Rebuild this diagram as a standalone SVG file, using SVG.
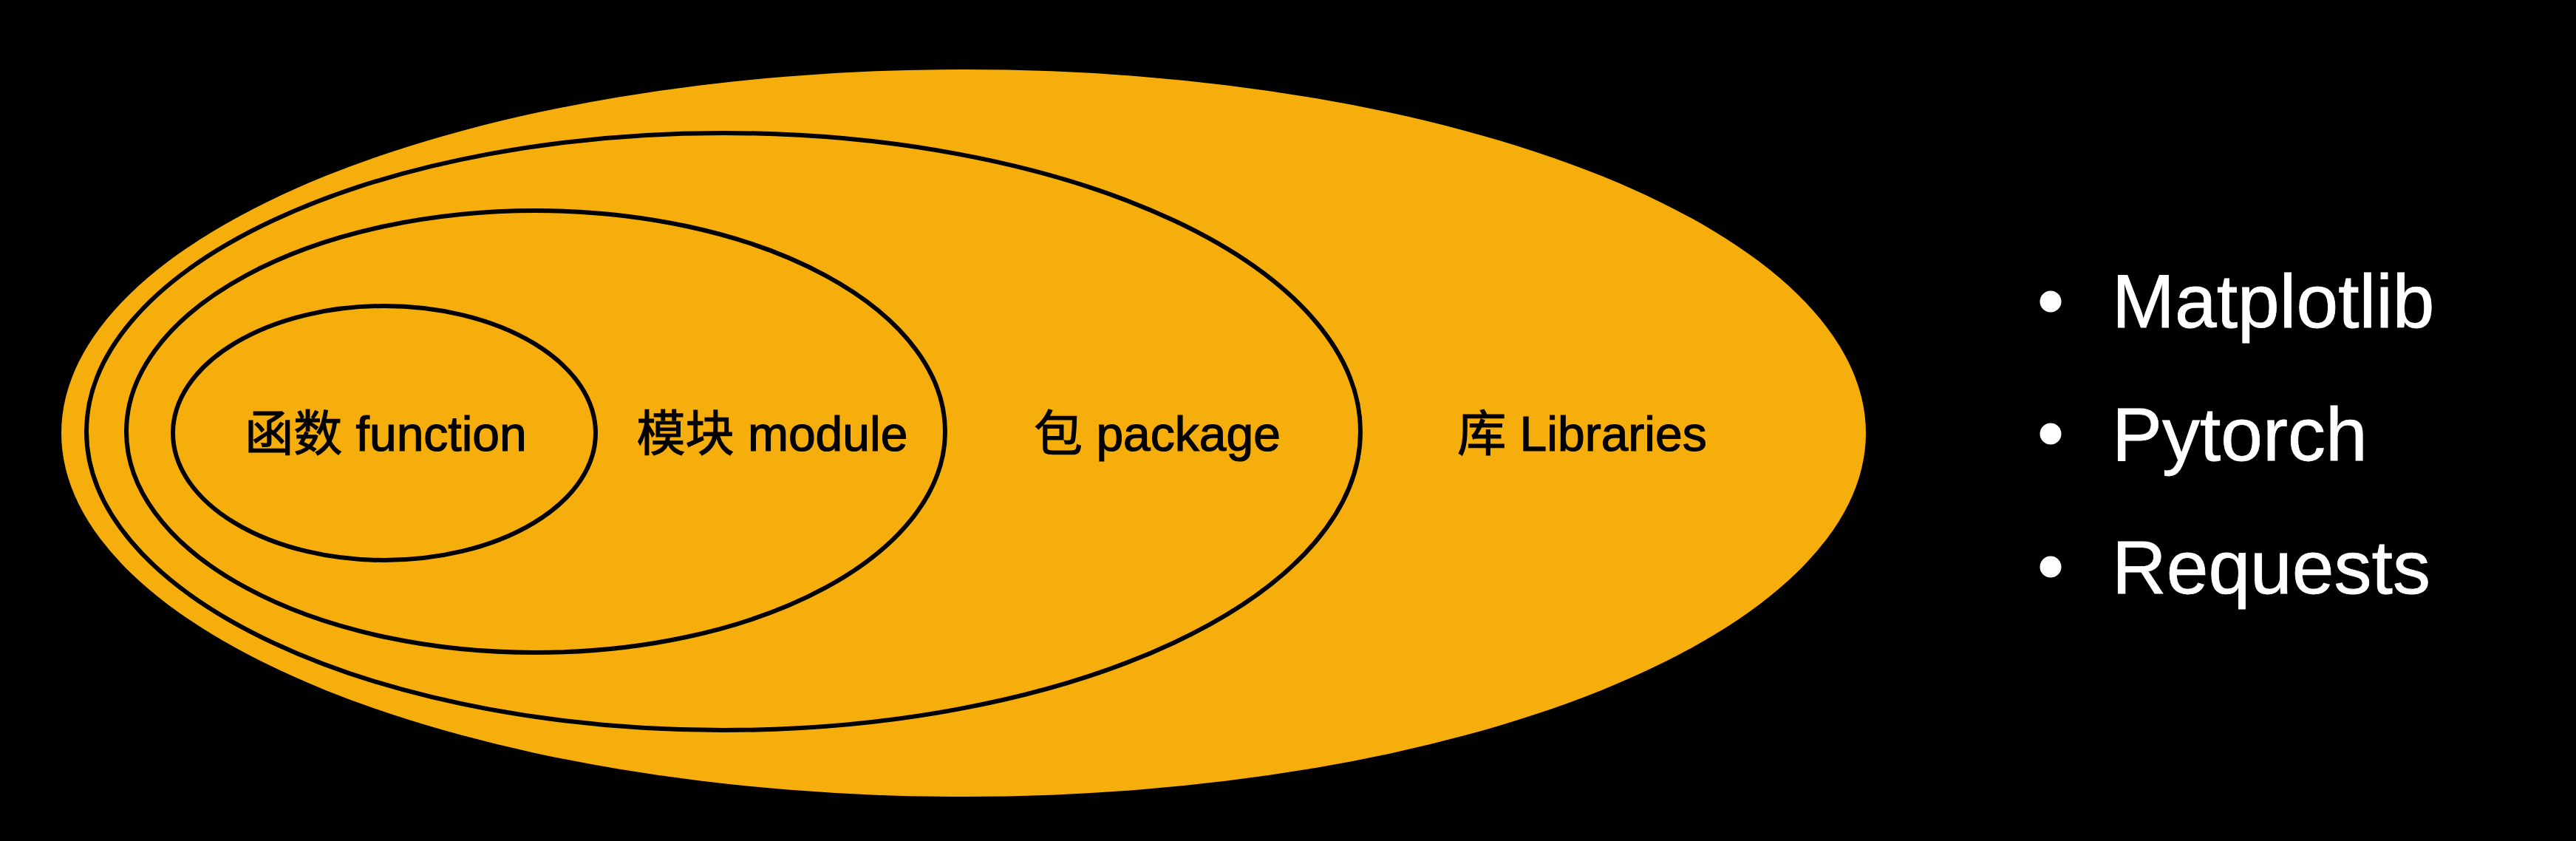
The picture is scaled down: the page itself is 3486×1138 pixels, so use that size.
<svg xmlns="http://www.w3.org/2000/svg" width="3486" height="1138" viewBox="0 0 3486 1138">
<style>
.ring{fill:none;stroke:#000;stroke-width:6}
.lbl{font-family:"Liberation Sans","Noto Sans CJK SC",sans-serif;font-size:66px;fill:#000;stroke:#000;stroke-width:1.2;text-anchor:middle}
.item{font-family:"Liberation Sans",Arial,sans-serif;font-size:102px;fill:#fff;stroke:#fff;stroke-width:0.8}
</style>
<rect x="0" y="0" width="3486" height="1138" fill="#000"/>
<g id="libraries">
<ellipse cx="1304" cy="586" rx="1221" ry="492" fill="#F5AE0B"/>
<text class="lbl" x="2141" y="610">库 Libraries</text>
</g>
<g id="package">
<ellipse class="ring" cx="979" cy="584" rx="862" ry="404"/>
<text class="lbl" x="1566" y="610">包 package</text>
</g>
<g id="module">
<ellipse class="ring" cx="725" cy="584" rx="554" ry="299"/>
<text class="lbl" x="1045" y="610">模块 module</text>
</g>
<g id="function">
<ellipse class="ring" cx="520" cy="586" rx="286" ry="172"/>
<text class="lbl" x="522" y="610">函数 function</text>
</g>
<g id="connectors"></g>
<g id="list">
<circle cx="2775" cy="408" r="14.5" fill="#fff"/>
<text class="item" x="2858" y="443">Matplotlib</text>
<circle cx="2775" cy="587" r="14.5" fill="#fff"/>
<text class="item" x="2858" y="623">Pytorch</text>
<circle cx="2775" cy="767" r="14.5" fill="#fff"/>
<text class="item" x="2858" y="803">Requests</text>
</g>
</svg>
